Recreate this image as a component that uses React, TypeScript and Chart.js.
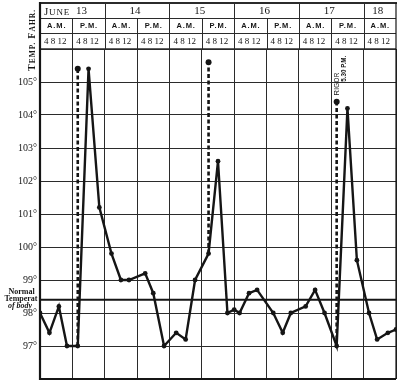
import React, { useEffect, useRef } from "react";
import { Chart, registerables } from "chart.js";

Chart.register(...registerables);

// ---- data ----
const monthLabel = "June";
const dayLabels = ["13", "14", "15", "16", "17", "18"];
const halfDayLabels = ["A.M.", "P.M."];
const readingHourLabels = ["4", "8", "12"];
const tempTickValues = [97, 98, 99, 100, 101, 102, 103, 104, 105];

// hours elapsed since midnight, June 13
const readingHours = [
  0, 3.5, 7, 10, 14, 18, 22, 26.5, 30, 33, 39, 42, 46, 50.5, 54, 57.5, 62.5, 66,
  69.5, 72, 74, 77.5, 80.5, 86.5, 90, 93, 98.5, 102, 105.5, 110, 114, 117.5, 122,
  125, 129, 132,
];
const readingTemps = [
  98.0, 97.4, 98.2, 97.0, 97.0, 105.4, 101.2, 99.8, 99.0, 99.0, 99.2, 98.6, 97.0,
  97.4, 97.2, 99.0, 99.8, 102.6, 98.0, 98.1, 98.0, 98.6, 98.7, 98.0, 97.4, 98.0,
  98.2, 98.7, 98.0, 97.0, 104.2, 99.6, 98.0, 97.2, 97.4, 97.5,
];

// rigor rises (dashed)
const rigorHours = [14, 62.5, 110];
const rigorFromTemps = [97.0, 99.8, 97.0];
const rigorToTemps = [105.4, 105.6, 104.4];
const rigorNote = ["Rigor", "5.30 P.M."];

const normalTemp = 98.4;
const normalLabel = ["Normal", "Temperat", "of body"];
const axisTitle = "Temp. Fahr.";

const hourMin = 0;
const hourMax = 132;
const tempMin = 96;
const tempMax = 106;

const INK = "#151515";
const GRID = "#2b2b2b";
const SERIF = "'Liberation Serif', 'DejaVu Serif', serif";
const SANS = "'Liberation Sans', 'DejaVu Sans', sans-serif";

function drawSmallCaps(
  ctx: CanvasRenderingContext2D,
  text: string,
  big: number,
  small: number,
  family: string,
  weight: string,
  spacing: number,
  cx: number,
  cy: number,
  align: "center" | "left" = "center"
) {
  const runs: { t: string; s: number }[] = [];
  const words = text.split(" ");
  words.forEach((w, wi) => {
    if (wi > 0) runs.push({ t: " ", s: small });
    if (w.length) {
      runs.push({ t: w[0].toUpperCase(), s: big });
      if (w.length > 1) runs.push({ t: w.slice(1).toUpperCase(), s: small });
    }
  });
  const anyCtx = ctx as any;
  anyCtx.letterSpacing = spacing + "px";
  let total = 0;
  const widths = runs.map((r) => {
    ctx.font = `${weight} ${r.s}px ${family}`;
    const w = ctx.measureText(r.t).width;
    total += w;
    return w;
  });
  let x = align === "center" ? cx - total / 2 : cx;
  ctx.textAlign = "left";
  ctx.textBaseline = "alphabetic";
  const baseline = cy + big * 0.35;
  runs.forEach((r, i) => {
    ctx.font = `${weight} ${r.s}px ${family}`;
    ctx.fillText(r.t, x, baseline);
    x += widths[i];
  });
  anyCtx.letterSpacing = "0px";
}

const headerPlugin = {
  id: "tempHeader",
  afterDraw(chart: any) {
    const ctx: CanvasRenderingContext2D = chart.ctx;
    const xs = chart.scales.x;
    const ys = chart.scales.y;
    const area = chart.chartArea;
    const px = (h: number) => xs.getPixelForValue(h);
    const top = 3;
    const row1 = 18.5;
    const row2 = 33.5;
    const row3 = area.top;

    const line = (x1: number, y1: number, x2: number, y2: number, w: number) => {
      ctx.beginPath();
      ctx.lineWidth = w;
      ctx.moveTo(x1, y1);
      ctx.lineTo(x2, y2);
      ctx.stroke();
    };

    ctx.save();
    ctx.strokeStyle = GRID;
    ctx.fillStyle = INK;

    // header horizontal rules
    line(area.left, top, area.right + 1, top, 2);
    line(area.left, row1, area.right, row1, 1);
    line(area.left, row2, area.right, row2, 1);
    line(area.left, row3, area.right, row3, 1.5);

    // header vertical rules
    const nCols = Math.round((hourMax - hourMin) / 12);
    for (let k = 1; k < nCols; k++) {
      const x = Math.round(px(hourMin + k * 12)) + 0.5;
      const y0 = k % 2 === 0 ? top : row1;
      line(x, y0, x, row3, 1);
    }

    // frame
    ctx.strokeStyle = INK;
    line(area.left, top - 1, area.left, area.bottom + 1, 2.2);
    line(area.right, top, area.right, area.bottom, 1.2);
    line(area.left, area.bottom, area.right, area.bottom, 2);

    // day labels
    dayLabels.forEach((d, i) => {
      const h0 = hourMin + i * 24;
      const h1 = Math.min(h0 + 24, hourMax);
      let cx = (px(h0) + px(h1)) / 2;
      if (i === 0) {
        drawSmallCaps(ctx, monthLabel, 11, 9, SERIF, "normal", 0.8, px(h0) + 4, 11.5, "left");
        cx = px(h0) + 43.5;
      }
      ctx.font = `11px ${SERIF}`;
      ctx.textAlign = "center";
      ctx.textBaseline = "middle";
      ctx.fillText(d, cx - 2, 11.5);
    });

    // half-day and reading hour labels
    for (let k = 0; k < nCols; k++) {
      const cx = (px(hourMin + k * 12) + px(hourMin + (k + 1) * 12)) / 2;
      (ctx as any).letterSpacing = "0.9px";
      ctx.font = `bold 7.5px ${SANS}`;
      ctx.textAlign = "center";
      ctx.textBaseline = "middle";
      ctx.fillText(halfDayLabels[k % 2], cx + 0.5, 26);
      (ctx as any).letterSpacing = "0px";
      ctx.font = `9px ${SERIF}`;
      ctx.fillText(readingHourLabels.join(" "), cx - 1, 41.5);
    }

    // rotated axis title
    ctx.save();
    ctx.translate(31, 40);
    ctx.rotate(-Math.PI / 2);
    drawSmallCaps(ctx, axisTitle, 10, 7.5, SERIF, "bold", 1.0, 0, 0);
    ctx.restore();

    // normal temperature label
    const ny = ys.getPixelForValue(normalTemp);
    ctx.font = `bold 8px ${SERIF}`;
    ctx.textAlign = "center";
    ctx.textBaseline = "middle";
    ctx.fillText(normalLabel[0], 21.5, ny - 7.5);
    ctx.fillText(normalLabel[1], 21, ny - 1);
    ctx.font = `italic bold 8px ${SERIF}`;
    ctx.fillText(normalLabel[2], 20, ny + 6);

    // rigor note
    const rx = px(rigorHours[2]);
    const rTop = ys.getPixelForValue(rigorToTemps[2]);
    ctx.save();
    ctx.translate(rx, rTop - 6);
    ctx.rotate(-Math.PI / 2);
    drawSmallCaps(ctx, rigorNote[0], 8, 6.3, SANS, "normal", 0.3, 0, 0, "left");
    ctx.font = `bold 6.3px ${SANS}`;
    ctx.textAlign = "left";
    ctx.textBaseline = "middle";
    ctx.fillText(rigorNote[1], 14, 8);
    ctx.restore();

    ctx.restore();
  },
};

export default function App() {
  const ref = useRef<HTMLCanvasElement | null>(null);

  useEffect(() => {
    if (!ref.current) return;
    const solid = readingHours.map((h, i) => ({ x: h, y: readingTemps[i] }));
    const rigorSets = rigorHours.map((h, i) => ({
      type: "line" as const,
      data: [
        { x: h, y: rigorFromTemps[i] },
        { x: h, y: rigorToTemps[i] },
      ],
      borderColor: INK,
      borderWidth: 2.6,
      borderDash: [4, 2.5],
      pointRadius: (c: any) => (c.dataIndex === 1 ? 3 : 0),
      pointBackgroundColor: INK,
      pointBorderWidth: 0,
      clip: false as any,
    }));

    const chart = new Chart(ref.current, {
      type: "line",
      data: {
        datasets: [
          {
            data: [
              { x: hourMin, y: normalTemp },
              { x: hourMax, y: normalTemp },
            ],
            borderColor: INK,
            borderWidth: 2,
            pointRadius: 0,
          },
          ...rigorSets,
          {
            data: solid,
            borderColor: INK,
            borderWidth: 2.4,
            tension: 0,
            pointRadius: 2.4,
            pointBackgroundColor: INK,
            pointBorderWidth: 0,
          },
        ] as any,
      },
      options: {
        animation: false,
        responsive: false,
        devicePixelRatio: 1,
        layout: { padding: { top: 49, right: 3, bottom: 3, left: 0 } },
        plugins: {
          legend: { display: false },
          tooltip: { enabled: false },
        },
        scales: {
          x: {
            type: "linear",
            min: hourMin,
            max: hourMax,
            ticks: { display: false, stepSize: 12 },
            grid: { color: GRID, lineWidth: 1, drawTicks: false },
            border: { display: false },
          },
          y: {
            type: "linear",
            min: tempMin,
            max: tempMax,
            afterFit: (scale: any) => {
              scale.width = 40;
            },
            afterBuildTicks: (scale: any) => {
              scale.ticks = [tempMin, ...tempTickValues, tempMax].map((v) => ({ value: v }));
            },
            ticks: {
              padding: 3,
              color: INK,
              font: { family: SERIF, size: 10 },
              callback: (v: any) => (tempTickValues.includes(Number(v)) ? `${v}°` : ""),
            },
            grid: { color: GRID, lineWidth: 1, drawTicks: false },
            border: { display: false },
          },
        },
      },
      plugins: [headerPlugin],
    });
    return () => chart.destroy();
  }, []);

  return (
    <div style={{ position: "absolute", left: 0, top: 0, width: 400, height: 388, background: "#fff" }}>
      <canvas ref={ref} width={400} height={388} />
    </div>
  );
}
